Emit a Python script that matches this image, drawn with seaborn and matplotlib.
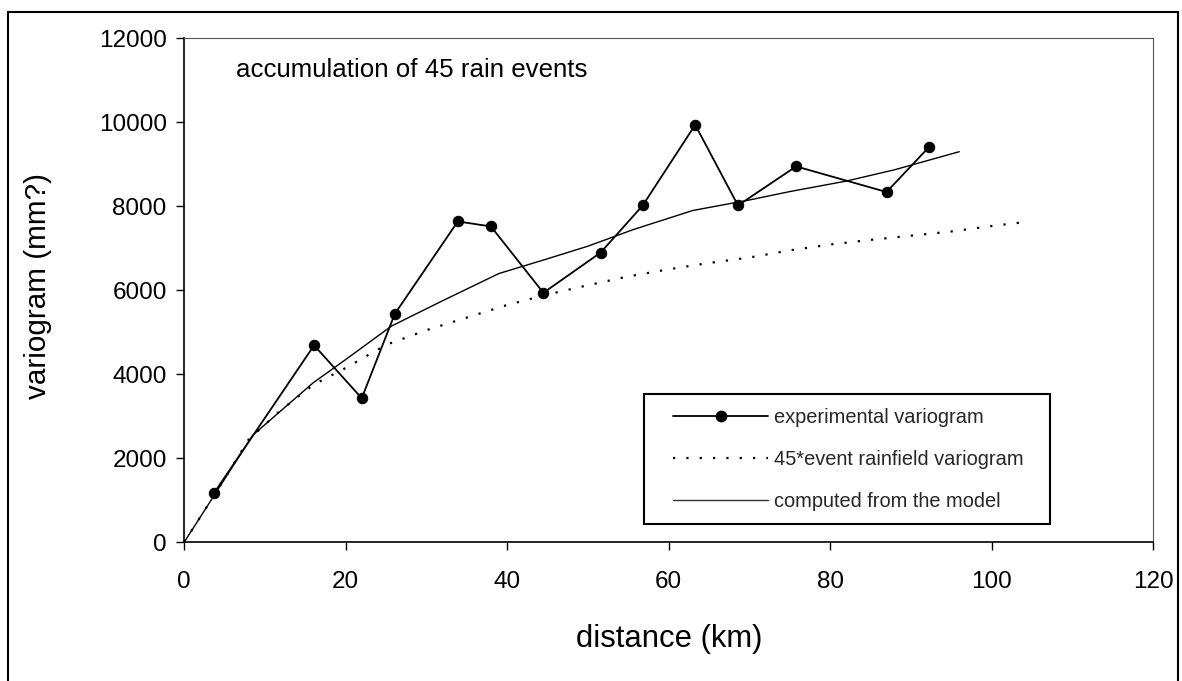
import matplotlib
matplotlib.use("Agg")
import matplotlib.pyplot as plt
import seaborn as sns
import pandas as pd
from matplotlib.patches import Rectangle
from matplotlib.lines import Line2D

# ---- data ----
exp_dist = [3.7, 16.1, 22.0, 26.1, 33.9, 38.0, 44.5, 51.6, 56.8, 63.3, 68.6, 75.8, 87.0, 92.3]
exp_vario = [1170, 4690, 3430, 5440, 7640, 7520, 5940, 6900, 8020, 9940, 8020, 8950, 8340, 9420]

event_dist = [0, 4, 8, 12, 16, 20, 25, 30, 35, 40, 45, 50, 55, 60, 65, 70, 75, 80, 85, 90, 95, 100, 104]
event_vario = [0, 1200, 2450, 3150, 3750, 4150, 4700, 5050, 5350, 5650, 5900, 6120, 6330, 6500,
               6650, 6780, 6950, 7090, 7200, 7300, 7400, 7530, 7620]

model_dist = [0, 4, 8.5, 16, 20, 25.7, 32, 39, 45, 50, 55.7, 63, 70, 75, 82, 88, 96]
model_vario = [0, 1200, 2550, 3800, 4350, 5150, 5750, 6400, 6750, 7050, 7450, 7900, 8150, 8350,
               8600, 8870, 9300]

x_ticks = [0, 20, 40, 60, 80, 100, 120]
y_ticks = [0, 2000, 4000, 6000, 8000, 10000, 12000]

lbl_exp = "experimental variogram"
lbl_event = "45*event rainfield variogram"
lbl_model = "computed from the model"

sns.set_theme(style="ticks")
plt.rcParams["font.family"] = ["Liberation Sans", "DejaVu Sans"]

W, H = 1182, 681
fig = plt.figure(figsize=(W / 100, H / 100), dpi=100)
fig.patch.set_facecolor("white")
ax = fig.add_axes([184.1 / W, 1 - 542.3 / H, (1153 - 184.1) / W, (542.3 - 38.3) / H])

df_exp = pd.DataFrame({"d": exp_dist, "v": exp_vario})
df_evt = pd.DataFrame({"d": event_dist, "v": event_vario})
df_mod = pd.DataFrame({"d": model_dist, "v": model_vario})

sns.lineplot(data=df_mod, x="d", y="v", ax=ax, color="black", lw=1.0,
             estimator=None, zorder=2)
sns.lineplot(data=df_evt, x="d", y="v", ax=ax, color="black", lw=1.6,
             linestyle=(0, (1, 5)), estimator=None, zorder=2)
sns.lineplot(data=df_exp, x="d", y="v", ax=ax, color="black", lw=1.3,
             marker="o", markersize=7.5, markeredgecolor="black",
             markerfacecolor="black", estimator=None, zorder=3)

ax.set_xlim(0, 120)
ax.set_ylim(0, 12000)
ax.set_xticks(x_ticks)
ax.set_yticks(y_ticks)
ax.set_xticklabels([str(t) for t in x_ticks])
ax.set_yticklabels([str(t) for t in y_ticks])
ax.tick_params(axis="both", direction="out", length=5.5, width=1, labelsize=17.5,
               colors="black")
ax.tick_params(axis="x", pad=15.5)
ax.tick_params(axis="y", pad=7)

for s in ["left", "bottom"]:
    ax.spines[s].set_color("black")
    ax.spines[s].set_linewidth(1.2)
for s in ["top", "right"]:
    ax.spines[s].set_color("#555555")
    ax.spines[s].set_linewidth(0.8)
    ax.spines[s].set_linestyle((0, (2, 1)))

ax.set_xlabel("distance (km)", fontsize=22.3, color="black")
ax.set_ylabel("variogram (mm?)", fontsize=21.3, color="black")
ax.xaxis.set_label_coords(0.5005, -0.162)
ax.yaxis.set_label_coords(-0.1366, 0.509)

fig.text(236 / W, 1 - 77 / H, "accumulation of 45 rain events", fontsize=18.6,
         va="baseline", ha="left", color="black")

handles = [
    Line2D([], [], color="black", lw=1.3, marker="o", markersize=7.5),
    Line2D([], [], color="black", lw=1.6, linestyle=(0, (1, 5))),
    Line2D([], [], color="#333333", lw=1.0),
]
leg = ax.legend(handles, [lbl_exp, lbl_event, lbl_model], loc="upper left",
                bbox_to_anchor=(673 / W, 1 - 408 / H), bbox_transform=fig.transFigure,
                frameon=False, fontsize=14.4, handlelength=4.75, handletextpad=0.3,
                labelspacing=1.15, borderpad=0, borderaxespad=0)

# legend box (drawn as in the original, with wider left padding)
ax.add_patch(Rectangle((644 / W, 1 - 524 / H), (1050 - 644) / W, (524 - 394) / H,
                       transform=fig.transFigure, fill=True, facecolor="white",
                       lw=1.5, edgecolor="black", zorder=4))
leg.set_zorder(5)

fig.add_artist(Rectangle((8 / W, -0.05), (1178 - 8) / W, 1.05 - 12.3 / H,
                         transform=fig.transFigure, fill=False, lw=1.5,
                         edgecolor="black"))

fig.savefig("out.png", dpi=100, facecolor="white")
